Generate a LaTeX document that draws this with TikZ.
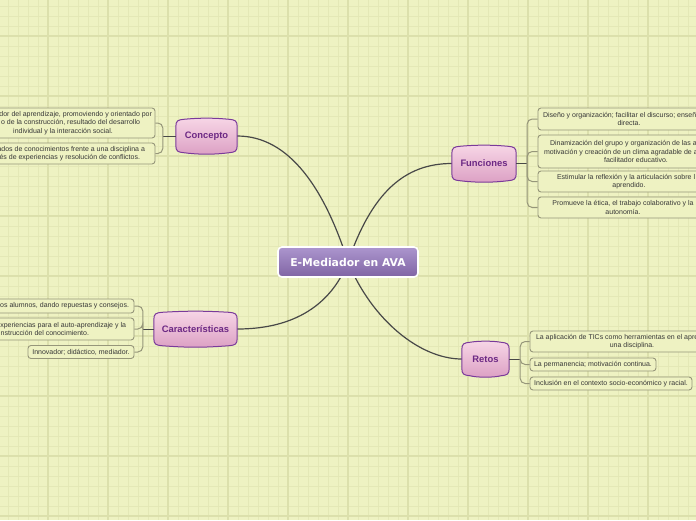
\documentclass[tikz,border=0pt]{standalone}
\usepackage{fontspec}
\setmainfont{Liberation Sans}
\newfontfamily\dejavu{DejaVu Sans}
\usetikzlibrary{calc}
\pgfdeclarelayer{bg}
\pgfsetlayers{bg,main}
\definecolor{bgc}{RGB}{238,242,194}
\definecolor{gridminor}{RGB}{228,232,182}
\definecolor{gridmajor}{RGB}{220,224,172}
\definecolor{leafline}{RGB}{150,150,122}
\definecolor{leaftext}{RGB}{55,55,55}
\definecolor{branchline}{RGB}{150,150,122}
\definecolor{mainline}{RGB}{72,72,72}
\definecolor{parenttext}{RGB}{108,40,132}
\definecolor{parentborder}{RGB}{122,58,154}
\definecolor{parenttop}{RGB}{247,214,230}
\definecolor{parentbot}{RGB}{220,160,196}
\definecolor{centraltop}{RGB}{172,150,206}
\definecolor{centralbot}{RGB}{128,100,164}
\tikzset{
  leaf/.style={draw=leafline, line width=0.9pt, fill=bgc, rounded corners=3pt,
    inner sep=0pt, align=center, text=leaftext, font=\fontsize{7}{8.2}\selectfont},
  parent/.style={inner sep=0pt, text=parenttext, font=\fontsize{9.4}{11}\selectfont\bfseries},
  central/.style={inner sep=0pt, minimum width=140pt, minimum height=30pt, rounded corners=4pt,
    draw=white, line width=1.6pt, top color=centraltop, bottom color=centralbot,
    text=white, font=\dejavu\fontsize{10.8}{12}\selectfont\bfseries},
  barrel/.style={draw=parentborder, line width=1pt, top color=parenttop, bottom color=parentbot},
  mainlink/.style={draw=mainline, line width=1.2pt},
  stem/.style={draw=mainline, line width=1pt},
  branch/.style={draw=branchline, line width=1pt, rounded corners=5pt},
  minorline/.style={draw=gridminor, line width=0.8pt},
  majorline/.style={draw=gridmajor, line width=1.1pt}
}
\newcommand\barrelshape[1]{%
  \path[barrel]
    ($(#1.north west)+(0,7)$)
    .. controls ($(#1.north west)+(0,1)$) and ($(#1.north west)+(2,0)$) .. ($(#1.north west)+(8,-0.5)$)
    .. controls ($(#1.north)+(-8,-2)$) and ($(#1.north)+(8,-2)$) .. ($(#1.north east)+(-8,-0.5)$)
    .. controls ($(#1.north east)+(-2,0)$) and ($(#1.north east)+(0,1)$) .. ($(#1.north east)+(0,7)$)
    -- ($(#1.south east)+(0,-7)$)
    .. controls ($(#1.south east)+(0,-1)$) and ($(#1.south east)+(-2,0)$) .. ($(#1.south east)+(-8,0.5)$)
    .. controls ($(#1.south)+(8,2.5)$) and ($(#1.south)+(-8,2.5)$) .. ($(#1.south west)+(8,0.5)$)
    .. controls ($(#1.south west)+(2,0)$) and ($(#1.south west)+(0,-1)$) .. ($(#1.south west)+(0,-7)$)
    -- cycle;}
\begin{document}
\begin{tikzpicture}[x=1pt,y=-1pt]
\useasboundingbox (0,0) rectangle (696,520);
\begin{pgfonlayer}{bg}
  \fill[bgc] (0,0) rectangle (696,520);
  \foreach \x in {8,18,...,688} \draw[minorline] (\x,0) -- (\x,520);
  \foreach \y in {6,16,...,516} \draw[minorline] (0,\y) -- (696,\y);
  \foreach \x in {48,108,...,648} \draw[majorline] (\x,0) -- (\x,520);
  \foreach \y in {36,96,...,516} \draw[majorline] (0,\y) -- (696,\y);
\end{pgfonlayer}
\clip (0,0) rectangle (696,520);

% central and parent nodes
\node[central] (m) at (348,262) {E-Mediador en AVA};
\node[parent, minimum width=61pt, minimum height=32pt] (concepto) at (206.5,136) {Concepto};
\node[parent, minimum width=83pt, minimum height=32pt] (caract) at (195.5,329) {Características};
\node[parent, minimum width=64pt, minimum height=33pt] (funciones) at (484,163.5) {Funciones};
\node[parent, minimum width=47pt, minimum height=32pt] (retos) at (485.5,359) {Retos};

\begin{pgfonlayer}{bg}
  \path[mainlink] (m.center) .. controls (325,190) and (290,136) .. (concepto.east);
  \path[mainlink] (m.center) .. controls (372,192) and (405,163.5) .. (funciones.west);
  \path[mainlink] (m.center) .. controls (325,320) and (272,329) .. (caract.east);
  \path[mainlink] (m.center) .. controls (372,320) and (420,359) .. (retos.west);
  \barrelshape{concepto}
  \barrelshape{caract}
  \barrelshape{funciones}
  \barrelshape{retos}
\end{pgfonlayer}

% Concepto leaves
\node[leaf, minimum width=184pt, minimum height=30pt] (c1) at (63,123) {%
  \makebox[178pt][r]{dor del aprendizaje, promoviendo y orientado por}\\
  \makebox[154pt][r]{o de la construcción, resultado del desarrollo}\\
  individual y la interacción social.};
\node[leaf, minimum width=184pt, minimum height=21pt] (c2) at (63,153.5) {%
  \makebox[164pt][r]{ados de conocimientos frente a una disciplina a}\\
  \makebox[154pt][r]{és de experiencias y resolución de conflictos.}};

% Caracteristicas leaves
\node[leaf, minimum width=185pt, minimum height=14pt] (k1) at (41.5,306) {%
  \makebox[175pt][r]{los alumnos, dando repuestas y consejos.}};
\node[leaf, minimum width=185pt, minimum height=22pt] (k2) at (41.5,329) {%
  \makebox[169pt][r]{experiencias para el auto-aprendizaje y la}\\
  \makebox[95pt][r]{nstrucción del conocimiento.}};
\node[leaf, minimum width=106pt, minimum height=13pt] (k3) at (81,352) {Innovador; didáctico, mediador.};

% Funciones leaves
\node[leaf, minimum width=182pt, minimum height=22pt] (f1) at (629,119) {%
  \makebox[172pt][l]{Diseño y organización; facilitar el discurso; enseñ}\\
  directa.};
\node[leaf, minimum width=196pt, minimum height=33pt] (f2) at (636,151.5) {%
  \makebox[172pt][l]{Dinamización del grupo y organización de las a}\\
  \makebox[184pt][l]{motivación y creación de un clima agradable de a}\\
  facilitador educativo.};
\node[leaf, minimum width=182pt, minimum height=21pt] (f3) at (629,181.5) {%
  \makebox[144pt][l]{Estimular la reflexión y la articulación sobre l}\\
  aprendido.};
\node[leaf, minimum width=170pt, minimum height=21pt] (f4) at (623,207.5) {%
  Promueve la ética, el trabajo colaborativo y la\\
  autonomía.};

% Retos leaves
\node[leaf, minimum width=204pt, minimum height=21pt] (r1) at (632,341.5) {%
  \makebox[192pt][l]{La aplicación de TICs como herramientas en el apre}\\
  una disciplina.};
\node[leaf, minimum width=126pt, minimum height=13pt] (r2) at (593,364.5) {La permanencia; motivación continua.};
\node[leaf, minimum width=162pt, minimum height=13pt] (r3) at (611,383.5) {Inclusión en el contexto socio-económico y racial.};

% brackets
\coordinate (cb) at ($(concepto.west)+(-13,0)$);
\draw[stem] (concepto.west) -- (cb);
\draw[branch] (cb) |- (c1.east);
\draw[branch] (cb) |- (c2.east);

\coordinate (kb) at ($(caract.west)+(-11,0)$);
\draw[stem] (caract.west) -- (kb);
\draw[branch] (kb) |- (k1.east);
\draw[branch] (kb) |- (k2.east);
\draw[branch] (kb) |- (k3.east);

\coordinate (fb) at ($(funciones.east)+(11,0)$);
\draw[stem] (funciones.east) -- (fb);
\draw[branch] (fb) |- (f1.west);
\draw[branch] (fb) |- (f2.west);
\draw[branch] (fb) |- (f3.west);
\draw[branch] (fb) |- (f4.west);

\coordinate (rb) at ($(retos.east)+(11,0)$);
\draw[stem] (retos.east) -- (rb);
\draw[branch] (rb) |- (r1.west);
\draw[branch] (rb) |- (r2.west);
\draw[branch] (rb) |- (r3.west);
\end{tikzpicture}
\end{document}
